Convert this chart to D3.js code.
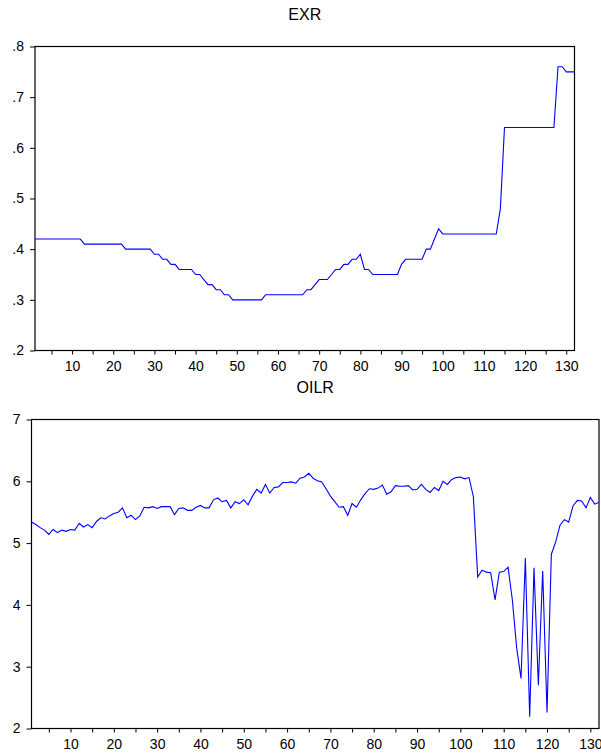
<!DOCTYPE html>
<html>
<head>
<meta charset="utf-8">
<script src="https://cdn.jsdelivr.net/npm/d3@7"></script>
<style>
  body { margin: 0; background: #fff; }
  text { font-family: Arial, "Liberation Sans", sans-serif; fill: #000; }
</style>
</head>
<body>
<div id="container"></div>
<script>
// observation index 1..132
const obs = d3.range(1, 133);

const exrValues = [
  .42, .42, .42, .42, .42, .42, .42, .42, .42, .42, .42, .42,
  .41, .41, .41, .41, .41, .41, .41, .41, .41, .41,
  .40, .40, .40, .40, .40, .40, .40,
  .39, .39, .38, .38, .37, .37, .36, .36, .36, .36, .35, .35,
  .34, .33, .33, .32, .32, .31, .31,
  .30, .30, .30, .30, .30, .30, .30, .30,
  .31, .31, .31, .31, .31, .31, .31, .31, .31, .31,
  .32, .32, .33, .34, .34, .34, .35, .36, .36, .37, .37, .38, .38, .39,
  .36, .36, .35, .35, .35, .35, .35, .35, .35,
  .37, .38, .38, .38, .38, .38, .40, .40, .42, .44,
  .43, .43, .43, .43, .43, .43, .43, .43, .43, .43, .43, .43, .43, .43,
  .48,
  .64, .64, .64, .64, .64, .64, .64, .64, .64, .64, .64, .64, .64,
  .76, .76, .75, .75, .75
];

const oilrValues = [
  5.34, 5.30, 5.25, 5.21, 5.14, 5.22, 5.17, 5.21, 5.19, 5.22,
  5.21, 5.32, 5.26, 5.30, 5.25, 5.35, 5.41, 5.39, 5.44, 5.48,
  5.50, 5.57, 5.41, 5.45, 5.38, 5.44, 5.58, 5.57, 5.59, 5.56,
  5.59, 5.59, 5.59, 5.46, 5.56, 5.57, 5.53, 5.53, 5.58, 5.61,
  5.57, 5.57, 5.70, 5.73, 5.67, 5.69, 5.57, 5.67, 5.64, 5.70,
  5.62, 5.76, 5.87, 5.81, 5.95, 5.81, 5.90, 5.91, 5.98, 5.98,
  5.99, 5.97, 6.05, 6.07, 6.13, 6.05, 6.01, 5.99, 5.88, 5.76,
  5.67, 5.58, 5.59, 5.45, 5.64, 5.58, 5.70, 5.80, 5.88, 5.87,
  5.89, 5.94, 5.79, 5.83, 5.93, 5.92, 5.92, 5.93, 5.86, 5.87,
  5.95, 5.87, 5.82, 5.90, 5.85, 6.00, 5.95, 6.03, 6.06, 6.07,
  6.04, 6.06, 5.75, 4.45, 4.56, 4.53, 4.52, 4.08, 4.53, 4.54,
  4.61, 4.08, 3.30, 2.81, 4.76, 2.19, 4.60, 2.70, 4.55, 2.26,
  4.82, 5.02, 5.29, 5.38, 5.34, 5.60, 5.69, 5.68, 5.57, 5.74,
  5.63, 5.66
];

const xTickValues = [10, 20, 30, 40, 50, 60, 70, 80, 90, 100, 110, 120, 130];
const xMinorTicks = d3.range(5, 132, 5);
const exrTicks = [.2, .3, .4, .5, .6, .7, .8];
const oilrTicks = [2, 3, 4, 5, 6, 7];

const width = 601, height = 755;
const svg = d3.select("#container").append("svg")
    .attr("width", width)
    .attr("height", height);

function drawPanel(opts) {
    const x = d3.scaleLinear().domain([1, 132]).range([opts.left, opts.right]);
    const y = d3.scaleLinear().domain(opts.yDomain).range([opts.bottom, opts.top]);

    const g = svg.append("g");

    // title
    g.append("text")
        .attr("x", (opts.left + opts.right) / 2)
        .attr("y", opts.titleY)
        .attr("text-anchor", "middle")
        .style("font-size", "16px")
        .text(opts.title);

    // x axis: ticks every 5, labels every 10
    const xAxis = d3.axisBottom(x)
        .tickValues(xMinorTicks)
        .tickSize(4)
        .tickPadding(7)
        .tickFormat(d => xTickValues.includes(d) ? d : "");
    const gx = g.append("g")
        .attr("transform", `translate(0,${opts.bottom})`)
        .call(xAxis);
    gx.select(".domain").remove();
    gx.selectAll("text").style("font-size", "14px").attr("fill", "#000");
    gx.selectAll("line").attr("stroke", "#000");

    const yAxis = d3.axisLeft(y)
        .tickValues(opts.yTicks)
        .tickSize(5)
        .tickPadding(6)
        .tickFormat(opts.yFormat);
    const gy = g.append("g")
        .attr("transform", `translate(${opts.left},0)`)
        .call(yAxis);
    gy.select(".domain").remove();
    gy.selectAll("text").style("font-size", "14px").attr("fill", "#000");
    gy.selectAll("line").attr("stroke", "#000");

    // frame
    g.append("rect")
        .attr("x", opts.left)
        .attr("y", opts.top)
        .attr("width", opts.right - opts.left)
        .attr("height", opts.bottom - opts.top)
        .attr("fill", "none")
        .attr("stroke", "#000")
        .attr("stroke-width", 1.2);

    const line = d3.line()
        .x((d, i) => x(obs[i]))
        .y(d => y(d));

    g.append("path")
        .datum(opts.values)
        .attr("d", line)
        .attr("fill", "none")
        .attr("stroke", "#0000ff")
        .attr("stroke-width", 1.1);
}

drawPanel({
    title: "EXR",
    titleY: 19.5,
    left: 35, right: 574.5, top: 46.5, bottom: 350.5,
    yDomain: [.2, .8],
    yTicks: exrTicks,
    yFormat: d => d3.format(".1f")(d).replace(/^0/, ""),
    values: exrValues
});

drawPanel({
    title: "OILR",
    titleY: 393,
    left: 31.5, right: 599, top: 419.5, bottom: 728.5,
    yDomain: [2, 7],
    yTicks: oilrTicks,
    yFormat: d3.format("d"),
    values: oilrValues
});
</script>
</body>
</html>
